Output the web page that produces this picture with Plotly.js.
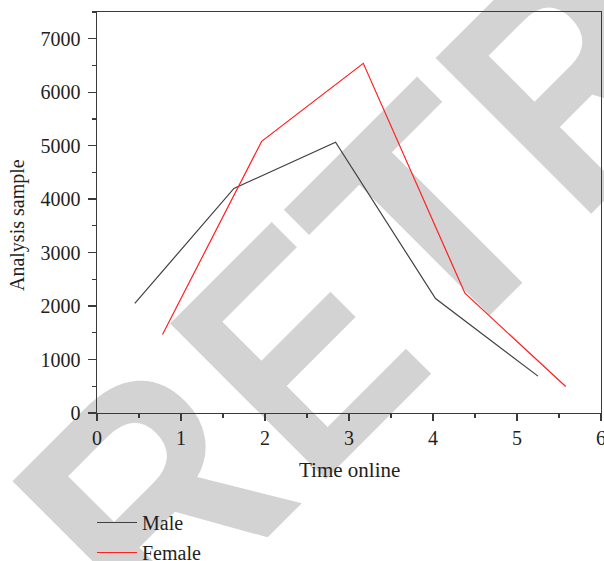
<!DOCTYPE html>
<html>
<head>
<meta charset="utf-8">
<script src="https://cdn.plot.ly/plotly-3.0.1.min.js"></script>
<style>
  html, body { margin: 0; padding: 0; background: #ffffff; }
  #wrap { position: relative; width: 604px; height: 561px; overflow: hidden; }
  #wm { position: absolute; left: 0; top: 0; }
  #chart { position: absolute; left: 0; top: 0; width: 604px; height: 561px; }
</style>
</head>
<body>
<div id="wrap">
  <svg id="wm" width="604" height="561" xmlns="http://www.w3.org/2000/svg">
    <g transform="translate(123 682) rotate(-45)" font-family="Liberation Sans, Arial, sans-serif" font-weight="bold" font-size="320" fill="#d3d3d3">
      <text transform="translate(44 0) scale(0.93 1)">R</text>
      <text transform="translate(269 0) scale(0.83 1)">E</text>
      <text transform="translate(444 0)">T</text>
      <text transform="translate(644 0) scale(0.85 1)">RACTED</text>
    </g>
  </svg>
  <div id="chart"></div>
</div>
<script>
// Data
const seriesNames = ["Male", "Female"];
const maleX = [0.45, 1.63, 2.84, 4.03, 5.25];
const maleY = [2050, 4200, 5065, 2140, 690];
const femaleX = [0.78, 1.96, 3.17, 4.38, 5.58];
const femaleY = [1470, 5080, 6540, 2240, 495];
const xTickVals = [0, 1, 2, 3, 4, 5, 6];
const yTickVals = [0, 1000, 2000, 3000, 4000, 5000, 6000, 7000];
const xTitle = "Time online";
const yTitle = "Analysis sample";

const fontFam = "Liberation Serif, Times New Roman, serif";
const textColor = "#231f20";
const axisColor = "#3a3a3a";

const traces = [
  { x: maleX, y: maleY, name: seriesNames[0], legendgroup: "g1", type: "scatter", mode: "lines",
    line: { color: "#404040", width: 1.2 } },
  { x: femaleX, y: femaleY, name: seriesNames[1], legendgroup: "g2", type: "scatter", mode: "lines",
    line: { color: "#ff2020", width: 1.2 } }
];

const layout = {
  width: 604, height: 561,
  margin: { l: 97, r: 3, t: 12, b: 148, pad: 0, autoexpand: false },
  paper_bgcolor: "rgba(0,0,0,0)",
  plot_bgcolor: "rgba(0,0,0,0)",
  font: { family: fontFam, size: 20, color: textColor },
  showlegend: true,
  legend: {
    xref: "container", yref: "container",
    x: 92 / 604, y: 1 - 503 / 561, xanchor: "left", yanchor: "top",
    bgcolor: "rgba(0,0,0,0)", borderwidth: 0,
    font: { family: fontFam, size: 20, color: textColor },
    tracegroupgap: 1, itemwidth: 40
  },
  xaxis: {
    range: [0, 6], tickvals: xTickVals, ticktext: xTickVals.map(String),
    showgrid: false, zeroline: false,
    showline: true, linecolor: axisColor, linewidth: 1.4, mirror: true,
    ticks: "outside", ticklen: 7, tickwidth: 1.4, tickcolor: axisColor,
    minor: { dtick: 0.5, ticks: "outside", ticklen: 4, tickwidth: 1.2, tickcolor: axisColor },
    tickfont: { family: fontFam, size: 20, color: textColor },
    ticklabeloverflow: "allow",
    automargin: false
  },
  yaxis: {
    range: [0, 7500], tickvals: yTickVals, ticktext: yTickVals.map(String),
    showgrid: false, zeroline: false,
    showline: true, linecolor: axisColor, linewidth: 1.4, mirror: true,
    ticks: "outside", ticklen: 8, tickwidth: 1.4, tickcolor: axisColor,
    minor: { dtick: 500, ticks: "outside", ticklen: 4, tickwidth: 1.2, tickcolor: axisColor },
    tickfont: { family: fontFam, size: 20, color: textColor },
    ticklabelstandoff: 3,
    ticklabeloverflow: "allow",
    automargin: false
  },
  annotations: [
    { text: xTitle, xref: "paper", yref: "paper", x: 0.5, y: -0.143,
      xanchor: "center", yanchor: "middle", showarrow: false,
      font: { family: fontFam, size: 21, color: textColor } },
    { text: yTitle, xref: "paper", yref: "paper", x: -0.1587, y: 0.4688,
      xanchor: "center", yanchor: "middle", showarrow: false, textangle: -90,
      font: { family: fontFam, size: 20, color: textColor } }
  ]
};

Plotly.newPlot("chart", traces, layout, { displayModeBar: false, staticPlot: true });
</script>
</body>
</html>
